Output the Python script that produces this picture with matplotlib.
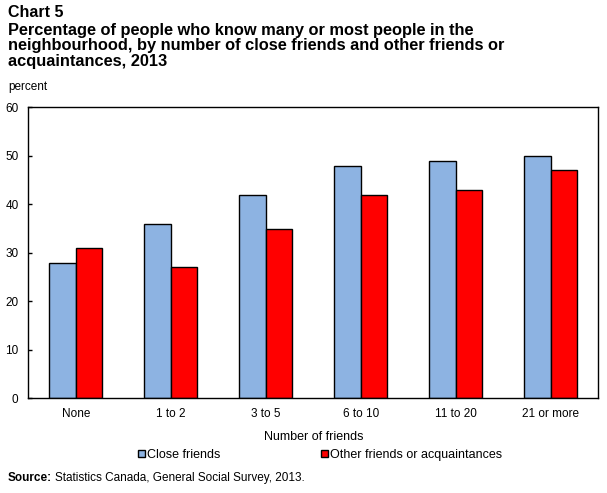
import matplotlib.pyplot as plt
import numpy as np

categories = ['None', '1 to 2', '3 to 5', '6 to 10', '11 to 20', '21 or more']
close_friends = [28, 36, 42, 48, 49, 50]
other_friends = [31, 27, 35, 42, 43, 47]
series_names = ['Close friends', 'Other friends or acquaintances']
colors = ['#8DB3E2', '#FF0000']

plt.rcParams['font.family'] = ['Liberation Sans', 'DejaVu Sans']


def main():
    fig = plt.figure(figsize=(6.07, 4.93), dpi=100)
    ax = fig.add_axes([0.0466, 0.192, 0.939, 0.5903])

    x = np.arange(len(categories))
    w = 0.28
    b1 = ax.bar(x - w / 2, close_friends, w, color=colors[0], edgecolor='black', linewidth=1)
    b2 = ax.bar(x + w / 2, other_friends, w, color=colors[1], edgecolor='black', linewidth=1)

    ax.set_xlim(-0.5, len(categories) - 0.5)
    ax.set_ylim(0, 60)
    ax.set_yticks(range(0, 61, 10))
    ax.set_xticks(x)
    ax.set_xticklabels(categories, fontsize=8.5)
    ax.tick_params(axis='y', direction='in', length=3, labelsize=8.5, pad=7, width=1)
    ax.tick_params(axis='x', length=0, pad=7)
    for s in ax.spines.values():
        s.set_linewidth(1)

    ax.set_xlabel('Number of friends', fontsize=9, labelpad=8)

    fig.text(0.013, 0.99, 'Chart 5', fontsize=11.5, fontweight='bold', va='top')
    fig.text(0.013, 0.953,
             'Percentage of people who know many or most people in the\n'
             'neighbourhood, by number of close friends and other friends or\n'
             'acquaintances, 2013',
             fontsize=11.8, fontweight='bold', va='top', linespacing=1.02)
    fig.text(0.013, 0.823, 'percent', fontsize=8.5, va='center')

    fig.legend([b1, b2], series_names, loc='center', bbox_to_anchor=(0.527, 0.077),
               ncol=2, frameon=False, fontsize=9, handlelength=0.55, handleheight=0.55,
               handletextpad=0.15, columnspacing=8.1)

    fig.text(0.013, 0.03, 'Source:', fontsize=8.5, fontweight='bold', va='center')
    fig.text(0.09, 0.03, 'Statistics Canada, General Social Survey, 2013.', fontsize=8.5, va='center')

    fig.savefig('out.png', dpi=100)


if __name__ == "__main__":
    main()
